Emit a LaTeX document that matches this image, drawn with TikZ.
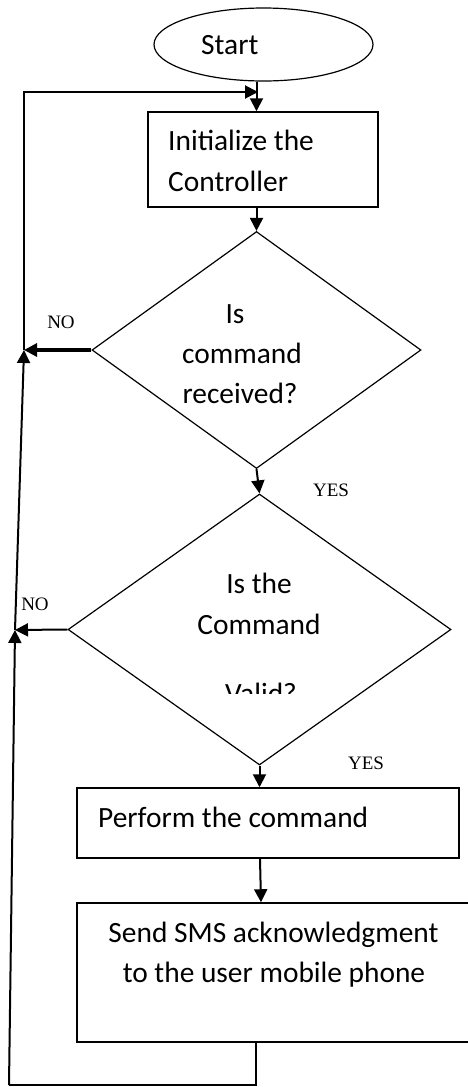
\documentclass[tikz,border=0pt]{standalone}
\usepackage{fontspec}
\setmainfont{Carlito}
\newfontfamily\labelfont{Liberation Serif}
\usetikzlibrary{shapes.geometric,arrows.meta}

\tikzset{
  flowbox/.style={draw, line width=1.5pt, rectangle, inner sep=0pt},
  decision/.style={draw, line width=1.2pt, diamond, inner sep=0pt},
  terminal/.style={draw, line width=1.2pt, ellipse, inner sep=0pt},
  body/.style={font=\fontsize{29.4}{41}\selectfont, inner sep=0pt},
  branch/.style={font=\labelfont\fontsize{19}{22}\selectfont, inner sep=0pt},
  flow/.style={line width=2pt, -{Triangle[length=13pt,width=13pt]}},
  heavyflow/.style={line width=3.2pt, -{Triangle[length=13pt,width=13pt]}},
  wire/.style={line width=2pt}
}

\begin{document}
\begin{tikzpicture}[x=1pt,y=-1pt]
\useasboundingbox (0,0) rectangle (468,1087);

% shapes
\node[terminal, minimum width=219pt, minimum height=73pt] (start) at (263.5,44.5) {};
\node[flowbox, minimum width=230pt, minimum height=95pt] (init) at (263,159.5) {};
\node[decision, minimum width=329pt, minimum height=237pt] (recv) at (256.5,350) {};
\node[decision, minimum width=383pt, minimum height=271pt] (valid) at (259.5,629.5) {};
\node[flowbox, minimum width=382pt, minimum height=70pt] (perform) at (268,823) {};
\node[flowbox, minimum width=401pt, minimum height=139pt] (sms) at (277.5,972.5) {};

% texts
\node[body, anchor=base west] (tstart) at (201,54) {Start};
\node[body, anchor=base west] (tinit1) at (168,150) {Initialize the};
\node[body, anchor=base west] (tinit2) at (168,191) {Controller};
\node[body, anchor=base] (trecv1) at (235,323) {Is};
\node[body, anchor=base] (trecv2) at (242,363) {command};
\node[body, anchor=base] (trecv3) at (240,403) {received?};
\node[body, anchor=base] (tvalid1) at (259,593) {Is the};
\node[body, anchor=base] (tvalid2) at (259,634) {Command};
\begin{scope}
  \clip (150,650) rectangle (370,693);
  \node[body, anchor=base] (tvalid3) at (261,703) {Valid?};
\end{scope}
\node[body, anchor=base west] (tperf) at (98,827) {Perform the command};
\node[body, anchor=base] (tsms1) at (273.5,942) {Send SMS acknowledgment};
\node[body, anchor=base] (tsms2) at (274,982) {to the user mobile phone};

% branch labels
\node[branch, anchor=base] (no1) at (61,328) {NO};
\node[branch, anchor=base] (yes1) at (331,496) {YES};
\node[branch, anchor=base] (no2) at (35,610) {NO};
\node[branch, anchor=base] (yes2) at (366,769) {YES};

% junction points of the return path
\coordinate (jtop) at (24,350);
\coordinate (jlow) at (15,630);
\coordinate (loopin) at (258,92);
\coordinate (smsout) at (256,1042);
\coordinate (base) at (256,1085);
\coordinate (baseleft) at (9,1085);

% main flow
\draw[flow] (start.south -| recv.north) -- (init.north -| recv.north);
\draw[flow] (init.south -| recv.north) -- (recv.north);
\draw[flow] (recv.south) -- (valid.north);
\draw[flow] (valid.south) -- (perform.north -| valid.south);
\draw[flow] (perform.south -| 260,0) -- (sms.north -| 261,0);

% return paths
\draw[heavyflow] (recv.west) -- (jtop);
\draw[flow] (valid.west) -- (jlow);
\draw[wire] (smsout) -- (base) -- (baseleft);
\draw[flow] (baseleft) -- (jlow);
\draw[flow] (jlow) -- (jtop);
\draw[flow] (jtop) |- (loopin);
\end{tikzpicture}
\end{document}
